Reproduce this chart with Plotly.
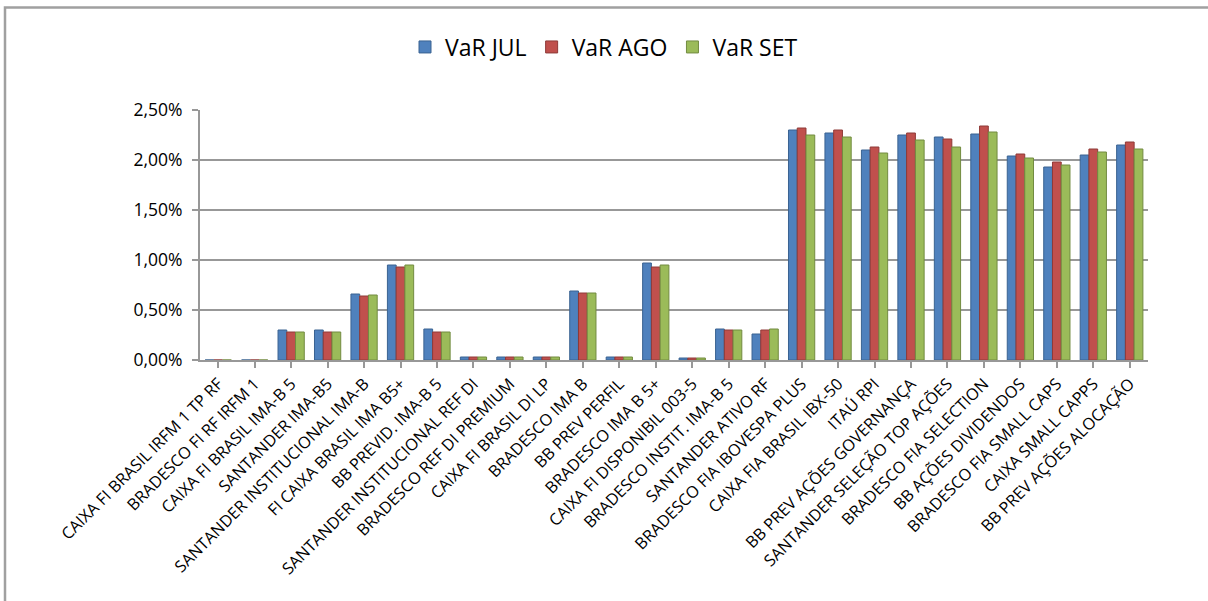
import plotly.graph_objects as go

categories = [
    "CAIXA FI BRASIL IRFM 1 TP RF",
    "BRADESCO FI RF IRFM 1",
    "CAIXA FI BRASIL IMA-B 5",
    "SANTANDER IMA-B5",
    "SANTANDER INSTITUCIONAL IMA-B",
    "FI CAIXA BRASIL IMA B5+",
    "BB PREVID. IMA-B 5",
    "SANTANDER INSTITUCIONAL REF DI",
    "BRADESCO REF DI PREMIUM",
    "CAIXA FI BRASIL DI LP",
    "BRADESCO IMA B",
    "BB PREV PERFIL",
    "BRADESCO IMA B 5+",
    "CAIXA FI DISPONIBIL 003-5",
    "BRADESCO INSTIT. IMA-B 5",
    "SANTANDER ATIVO RF",
    "BRADESCO FIA IBOVESPA PLUS",
    "CAIXA FIA BRASIL IBX-50",
    "ITAÚ RPI",
    "BB PREV AÇÕES GOVERNANÇA",
    "SANTANDER SELEÇÃO TOP AÇÕES",
    "BRADESCO FIA SELECTION",
    "BB AÇÕES DIVIDENDOS",
    "BRADESCO FIA SMALL CAPS",
    "CAIXA SMALL CAPPS",
    "BB PREV AÇÕES ALOCAÇÃO",
]

# values in percent
var_jul = [0, 0, 0.30, 0.30, 0.66, 0.95, 0.31, 0.03, 0.03, 0.03, 0.69, 0.03, 0.97, 0.02, 0.31, 0.26,
           2.30, 2.27, 2.10, 2.25, 2.23, 2.26, 2.04, 1.93, 2.05, 2.15]
var_ago = [0, 0, 0.28, 0.28, 0.64, 0.93, 0.28, 0.03, 0.03, 0.03, 0.67, 0.03, 0.93, 0.02, 0.30, 0.30,
           2.32, 2.30, 2.13, 2.27, 2.21, 2.34, 2.06, 1.98, 2.11, 2.18]
var_set = [0, 0, 0.28, 0.28, 0.65, 0.95, 0.28, 0.03, 0.03, 0.03, 0.67, 0.03, 0.95, 0.02, 0.30, 0.31,
           2.25, 2.23, 2.07, 2.20, 2.13, 2.28, 2.02, 1.95, 2.08, 2.11]

series = [
    ("VaR JUL", var_jul, "#4F81BD", "#3A6391"),
    ("VaR AGO", var_ago, "#C0504D", "#8E3A38"),
    ("VaR SET", var_set, "#9BBB59", "#728B41"),
]

fig = go.Figure()
for name, vals, col, edge in series:
    fig.add_trace(go.Bar(
        name=name,
        x=categories,
        y=[v / 100 for v in vals],
        marker=dict(color=col, line=dict(color=edge, width=1)),
    ))

font_family = "Open Sans, Lato, Liberation Sans, sans-serif"

L, R, T, B = 200, 60, 110, 241
W, H = 1208, 601
PW, PH = W - L - R, H - T - B

fig.update_layout(
    width=W,
    height=H,
    barmode="group",
    bargap=0.28,
    bargroupgap=0,
    separators=",.",
    paper_bgcolor="white",
    plot_bgcolor="white",
    margin=dict(l=L, r=R, t=T, b=B, autoexpand=False),
    font=dict(family=font_family, color="#000000"),
    legend=dict(
        orientation="h",
        x=0.5, xanchor="center", xref="container",
        y=1 - 47 / H, yref="container", yanchor="middle",
        font=dict(size=23, family=font_family),
        traceorder="normal",
    ),
    xaxis=dict(
        tickangle=-45,
        tickfont=dict(size=16.3, family=font_family),
        showline=True,
        linecolor="#989898",
        linewidth=2,
        ticks="outside",
        ticklen=6,
        tickcolor="#989898",
        tickwidth=2,
        showgrid=False,
        fixedrange=True,
        automargin=False,
    ),
    yaxis=dict(
        range=[0, 0.025],
        dtick=0.005,
        tickformat=".2%",
        tickfont=dict(size=17.5, family=font_family),
        ticklabelstandoff=6,
        showgrid=True,
        gridcolor="#989898",
        gridwidth=2,
        showline=True,
        linecolor="#989898",
        linewidth=2,
        ticks="outside",
        ticklen=6,
        tickcolor="#989898",
        tickwidth=2,
        zeroline=False,
        fixedrange=True,
        automargin=False,
    ),
)

# chart area border (top and left edges visible in the frame)
def px_x(px):
    return (px - L) / PW

def px_y(py):
    return (H - B - py) / PH

fig.add_shape(type="rect", xref="paper", yref="paper",
              x0=px_x(5), x1=px_x(W + 20), y0=px_y(H + 20), y1=px_y(7.5),
              line=dict(color="#A0A0A0", width=2.5), layer="below")

fig.write_html("out.html", config={"displayModeBar": False},
               post_script="document.body.style.margin='0px';")
